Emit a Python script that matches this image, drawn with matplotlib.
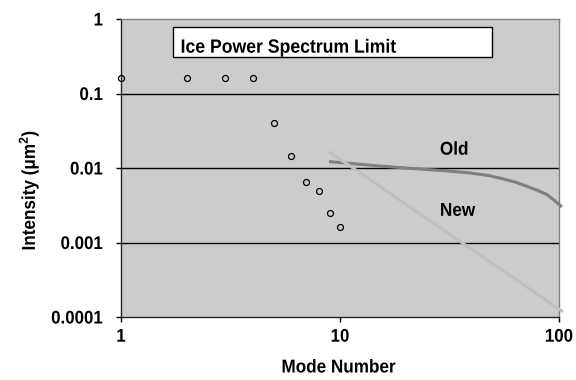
import matplotlib
matplotlib.use("Agg")
import matplotlib.pyplot as plt
from matplotlib.patches import Rectangle
from matplotlib.patheffects import AbstractPathEffect
from matplotlib.transforms import Affine2D

plt.rcParams['font.family'] = ['Liberation Sans', 'DejaVu Sans']
plt.rcParams['font.weight'] = 'bold'
plt.rcParams['mathtext.fontset'] = 'custom'
plt.rcParams['mathtext.rm'] = 'Liberation Sans:bold'
plt.rcParams['mathtext.bf'] = 'Liberation Sans:bold'

# Data
mode_pts = [1, 2, 3, 4, 5, 6, 7, 8, 9, 10]
intensity_pts = [0.16, 0.16, 0.16, 0.16, 0.040, 0.0145, 0.0065, 0.0049, 0.0025, 0.0016]

old_k = [8.9, 11.5, 16, 23, 30, 39, 48, 56, 64, 71, 80, 88, 95, 103]
old_v = [0.0122, 0.0114, 0.0105, 0.0097, 0.0092, 0.0086, 0.0079, 0.0071, 0.0064, 0.0057, 0.0050, 0.0044, 0.0037, 0.0030]

new_k = [8.9, 104.5]
new_v = [0.0166, 0.000117]

yticks = [0.0001, 0.001, 0.01, 0.1, 1]
ytick_labels = ['0.0001', '0.001', '0.01', '0.1', '1']
xticks = [1, 10, 100]
xtick_labels = ['1', '10', '100']


class Squeeze(AbstractPathEffect):
    """Horizontally condense text glyphs (narrow bold look)."""
    def __init__(self, sx=0.92, anchor='center'):
        super().__init__()
        self.sx = sx
        self.anchor = anchor

    def draw_path(self, renderer, gc, tpath, affine, rgbFace=None):
        v = tpath.vertices
        if len(v):
            if self.anchor == 'center':
                px = (v[:, 0].min() + v[:, 0].max()) / 2
            elif self.anchor == 'right':
                px = v[:, 0].max()
            else:
                px = 0.0
        else:
            px = 0.0
        t = Affine2D().translate(-px, 0).scale(self.sx, 1).translate(px, 0) + affine
        renderer.draw_path(gc, tpath, t, rgbFace)


SX = 0.92

fig = plt.figure(figsize=(5.76, 3.8), dpi=100)
ax = fig.add_axes([121/576, 1 - 317/380, 438/576, 298/380])
ax.set_facecolor('#cccccc')
ax.set_xscale('log')
ax.set_yscale('log')
ax.set_xlim(1, 100)
ax.set_ylim(0.0001, 1)

for y in [0.001, 0.01, 0.1]:
    ax.axhline(y, color='black', lw=1.0, zorder=1)

ax.plot(old_k, old_v, color='#7f7f7f', lw=2.2, zorder=3, solid_capstyle='butt', clip_on=False)
ax.plot(new_k, new_v, color='#c0c0c0', lw=2.2, zorder=3, solid_capstyle='butt', clip_on=False)
ax.plot(mode_pts, intensity_pts, linestyle='none', marker='o', markersize=4.3,
        markerfacecolor='none', markeredgecolor='black', markeredgewidth=0.9,
        zorder=4, clip_on=False)

ax.set_xticks(xticks)
ax.set_xticklabels(xtick_labels)
ax.set_yticks(yticks)
ax.set_yticklabels(ytick_labels)
ax.minorticks_off()
ax.tick_params(axis='both', direction='out', length=3.6, width=1, color='black',
               labelsize=13.2)
ax.tick_params(axis='y', pad=9.4)
ax.tick_params(axis='x', pad=4.8)
for lab in ax.get_xticklabels():
    lab.set_path_effects([Squeeze(SX, 'center')])
for lab in ax.get_yticklabels():
    lab.set_path_effects([Squeeze(SX, 'right')])

for s in ['top', 'right']:
    ax.spines[s].set_color('#808080')
    ax.spines[s].set_linewidth(1.0)
for s in ['left', 'bottom']:
    ax.spines[s].set_color('#222222')
    ax.spines[s].set_linewidth(1.0)

xl = ax.set_xlabel('Mode Number', fontsize=13.4, fontweight='bold')
ax.xaxis.set_label_coords(0.4966, -0.1426)
xl.set_path_effects([Squeeze(SX, 'center')])
yl = ax.set_ylabel('Intensity (\u03bcm$^{\\mathrm{2}}$)', fontsize=13.4, fontweight='bold')
ax.yaxis.set_label_coords(-0.1826, 0.426)
yl.set_path_effects([Squeeze(SX, 'center')])

box = Rectangle((0.119, 0.872), 0.728, 0.101, transform=ax.transAxes,
                facecolor='white', edgecolor='black', lw=1.0, zorder=5)
ax.add_patch(box)
t = ax.text(0.136, 0.887, 'Ice Power Spectrum Limit', transform=ax.transAxes,
            fontsize=13.8, fontweight='bold', va='baseline', ha='left', zorder=6)
t.set_path_effects([Squeeze(SX, 'left')])

t1 = ax.text(28.6, 0.0151, 'Old', fontsize=13.4, fontweight='bold', va='baseline', ha='left', zorder=6)
t2 = ax.text(28.6, 0.00228, 'New', fontsize=13.4, fontweight='bold', va='baseline', ha='left', zorder=6)
t1.set_path_effects([Squeeze(SX, 'left')])
t2.set_path_effects([Squeeze(SX, 'left')])

fig.savefig('out.png', dpi=100)
